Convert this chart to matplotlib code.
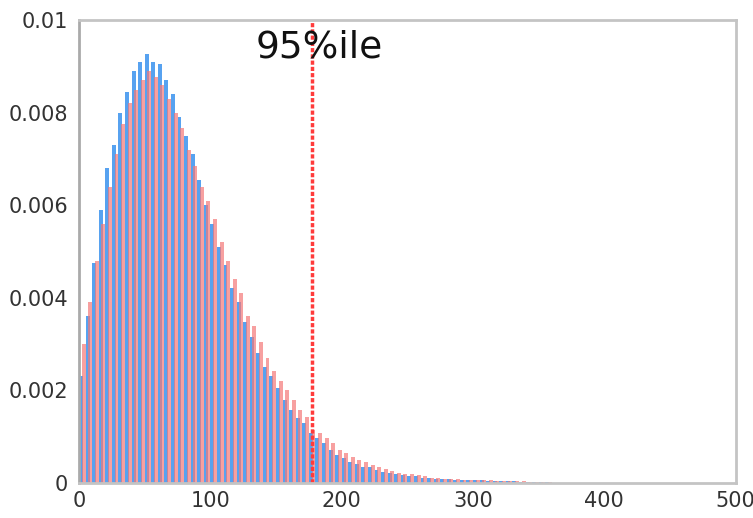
import numpy as np
import matplotlib.pyplot as plt

bin_width = 5
blue_vals = [0.0023, 0.0036, 0.00475, 0.0059, 0.0068, 0.0073, 0.0080, 0.00845, 0.0089, 0.0091,
             0.00927, 0.0091, 0.00905, 0.0087, 0.0084, 0.0079, 0.0075, 0.0071, 0.00654, 0.0060,
             0.0056, 0.0051, 0.0047, 0.0042, 0.0039, 0.00348, 0.00316, 0.0028, 0.0025, 0.0023,
             0.00205, 0.0018, 0.00158, 0.0014, 0.0013, 0.00108, 0.00097, 0.00086, 0.00071, 0.0006,
             0.00054, 0.00045, 0.00041, 0.00035, 0.00034, 0.00028, 0.00024, 0.00022, 0.00018, 0.00016,
             0.00015, 0.00014, 0.0001, 0.0001, 0.00009, 0.00008, 0.00008, 0.00007, 0.000065, 0.00006,
             0.00005, 0.00005, 0.00004, 0.00004, 0.00003, 0.00003, 0.00003, 0.00002, 0.00002, 0.00002,
             0.00002, 0.00001]
red_vals = [0.0030, 0.0039, 0.0048, 0.0056, 0.0064, 0.0071, 0.00775, 0.0082, 0.0085, 0.0087,
            0.0089, 0.00877, 0.0086, 0.0083, 0.0080, 0.00767, 0.0072, 0.00685, 0.0064, 0.0061,
            0.0057, 0.0052, 0.0048, 0.0044, 0.0041, 0.0036, 0.0034, 0.00305, 0.0027, 0.00242,
            0.0022, 0.0020, 0.0018, 0.00158, 0.00143, 0.00115, 0.00108, 0.00097, 0.00086, 0.00071,
            0.00065, 0.00056, 0.0005, 0.00045, 0.00039, 0.00035, 0.0003, 0.00026, 0.00022, 0.0002,
            0.00019, 0.00016, 0.00014, 0.00011, 0.0001, 0.00009, 0.00008, 0.00008, 0.00007, 0.000065,
            0.00006, 0.00005, 0.00005, 0.00004, 0.00004, 0.00003, 0.00003, 0.00003, 0.00002, 0.00002,
            0.00002, 0.00002]
pct95 = 177
x_ticks = [0, 100, 200, 300, 400, 500]
y_ticks = [0, 0.002, 0.004, 0.006, 0.008, 0.01]
y_labels = ['0', '0.002', '0.004', '0.006', '0.008', '0.01']

edges = np.arange(len(blue_vals)) * bin_width

fig = plt.figure(figsize=(7.53, 5.18), dpi=100)
ax = fig.add_axes([0.105, 0.068, 0.872, 0.893])

ax.bar(edges, blue_vals, width=bin_width * 0.6, align='edge', color='#3a92ee', alpha=0.85, linewidth=0)
ax.bar(edges + bin_width * 0.4, red_vals, width=bin_width * 0.6, align='edge', color='#f47878', alpha=0.7, linewidth=0)

ax.axvline(pct95, color='#ff3b3b', linestyle=(0, (1.2, 0.6)), linewidth=2.5)
ax.text(pct95 + 6, 0.0094, '95%ile', fontsize=27, ha='center', va='center', color='#111111')

ax.set_xlim(0, 500)
ax.set_ylim(0, 0.01)
ax.set_xticks(x_ticks)
ax.set_yticks(y_ticks)
ax.set_yticklabels(y_labels)
ax.tick_params(length=0, labelsize=15, labelcolor='#333333')
ax.tick_params(axis='x', pad=6)
ax.tick_params(axis='y', pad=8)
for s in ax.spines.values():
    s.set_color('#c4c4c4')
    s.set_linewidth(2)
ax.spines['left'].set_color('#aaaaaa')

fig.savefig('out.png', dpi=100)
